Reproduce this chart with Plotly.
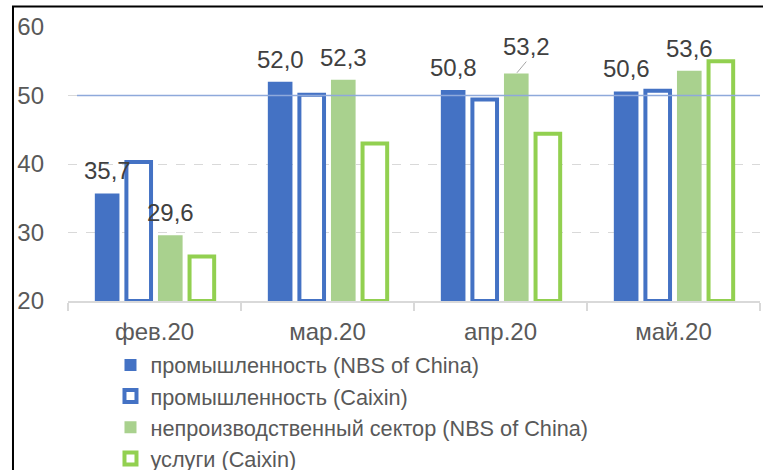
import plotly.graph_objects as go

categories = ["фев.20", "мар.20", "апр.20", "май.20"]
nbs_mfg = [35.7, 52.0, 50.8, 50.6]
caixin_mfg = [40.3, 50.1, 49.4, 50.7]
nbs_nonmfg = [29.6, 52.3, 53.2, 53.6]
caixin_serv = [26.5, 43.0, 44.4, 55.0]
series_names = [
    "промышленность (NBS of China)",
    "промышленность (Caixin)",
    "непроизводственный сектор (NBS of China)",
    "услуги (Caixin)",
]
y_ticks = [20, 30, 40, 50, 60]
Y_MIN, Y_MAX = 20, 60
REF_LEVEL = 50

FONT = "Arial, Liberation Sans, sans-serif"
BLUE = "#4472C4"
LGREEN = "#A9D18E"
GREEN = "#92D050"

W, H = 763, 470
ML, MR, MT, MB = 68, 3, 27, 169
BARGAP = 0.27


def fmt(v):
    return f"{v:.1f}".replace(".", ",")


fig = go.Figure()

specs = [
    (nbs_mfg, series_names[0], BLUE, BLUE, 0, True),
    (caixin_mfg, series_names[1], "white", BLUE, 4, False),
    (nbs_nonmfg, series_names[2], LGREEN, LGREEN, 0, True),
    (caixin_serv, series_names[3], "white", GREEN, 4, False),
]
n_series = len(specs)
cat_w = (W - ML - MR) / len(categories)
slot = cat_w * (1 - BARGAP) / n_series

for i, (vals, name, fill, line, lw, labeled) in enumerate(specs):
    fig.add_trace(go.Bar(
        x=categories,
        y=[v - Y_MIN for v in vals],
        base=[Y_MIN] * len(vals),
        name=name,
        marker=dict(color=fill, line=dict(color=line, width=lw)),
        hovertext=[fmt(v) for v in vals],
        hoverinfo="name+text",
    ))
    if labeled:
        off = (i - (n_series - 1) / 2) * slot
        for cat, v in zip(categories, vals):
            leader = (cat == "апр.20" and i == 2)
            fig.add_annotation(
                x=cat, y=v, xref="x", yref="y",
                text=fmt(v), xshift=off,
                yanchor="bottom",
                yshift=0 if leader else 7,
                showarrow=leader, arrowhead=0, arrowwidth=1, arrowcolor="#A6A6A6",
                ax=10, ay=-12, standoff=1,
                font=dict(family=FONT, size=24, color="#404040"),
            )

fig.add_shape(
    type="line", xref="paper", yref="y",
    x0=0.013, x1=1, y0=REF_LEVEL, y1=REF_LEVEL,
    line=dict(color="#8EA9DB", width=1.5), layer="above",
)
# outer frame
fig.add_shape(
    type="rect", xref="paper", yref="paper",
    x0=-0.0795, x1=1.2, y0=-1.0, y1=1.075,
    line=dict(color="black", width=2), fillcolor="rgba(0,0,0,0)", layer="above",
)

fig.update_layout(
    width=W, height=H,
    margin=dict(l=ML, r=MR, t=MT, b=MB, autoexpand=False),
    paper_bgcolor="white", plot_bgcolor="white",
    barmode="group", bargap=BARGAP, bargroupgap=0.22,
    showlegend=True,
    legend=dict(
        orientation="v", x=0.0614, xanchor="left", y=-0.158, yanchor="top",
        font=dict(family=FONT, size=21.7, color="#595959"),
        bgcolor="rgba(0,0,0,0)", tracegroupgap=0, itemclick=False,
    ),
    font=dict(family=FONT, color="#595959"),
)
fig.update_xaxes(
    showline=True, linecolor="#D9D9D9", linewidth=1.5,
    ticks="outside", tickson="boundaries", ticklen=8, tickcolor="#D9D9D9", tickwidth=1.5,
    tickfont=dict(family=FONT, size=24, color="#595959"),
    ticklabelstandoff=8,
    showgrid=False,
)
fig.update_yaxes(
    range=[Y_MIN, Y_MAX], tickvals=y_ticks,
    showgrid=True, gridcolor="#D9D9D9", griddash="dash", gridwidth=1,
    zeroline=False, showline=False,
    tickfont=dict(family=FONT, size=24, color="#595959"),
    ticklabelstandoff=23,
)

fig.write_html(
    "out.html",
    config={"displayModeBar": False},
    post_script="document.body.style.margin='0';",
)
